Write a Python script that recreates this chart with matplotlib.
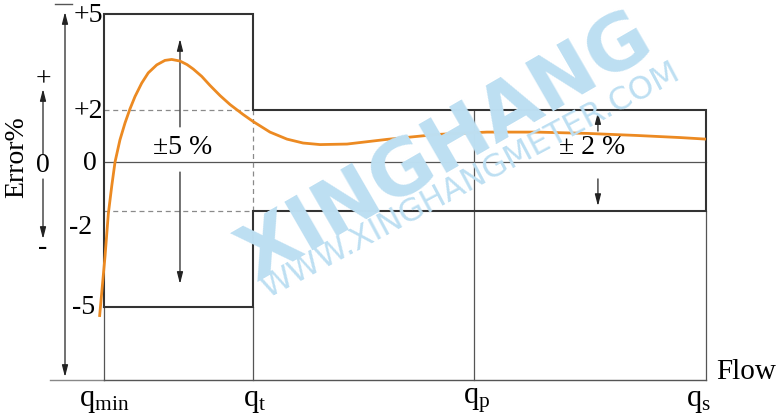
import numpy as np
import matplotlib
matplotlib.use('Agg')
import matplotlib.pyplot as plt

# ---------------- data ----------------
flow_labels = [r'$\mathrm{q_{min}}$', r'$\mathrm{q_{t}}$', r'$\mathrm{q_{p}}$', r'$\mathrm{q_{s}}$']
flow_pos = [0.0, 1.0, 2.48, 4.04]          # qmin, qt, qp, qs on the (schematic) flow axis
error_ticks = [5, 2, 0, -2, -5]
error_tick_labels = ['+5', '+2', '0', '-2', '-5']
wide_limit = 5      # +/-5 % zone between qmin and qt
narrow_limit = 2    # +/-2 % zone between qt and qs

curve_flow = [-0.030, 0.007, 0.029, 0.052, 0.074, 0.107, 0.141, 0.174, 0.208, 0.253,
              0.297, 0.354, 0.409, 0.454, 0.510, 0.557, 0.599, 0.656, 0.711, 0.779,
              0.846, 0.933, 1.000, 1.114, 1.228, 1.336, 1.450, 1.631, 1.899, 2.235,
              2.570, 2.906, 3.242, 3.577, 3.866, 4.040]
curve_error = [-5.31, -3.41, -2.09, -0.98, 0.00, 0.85, 1.50, 2.03, 2.42, 2.84,
               3.16, 3.41, 3.55, 3.58, 3.53, 3.42, 3.28, 3.05, 2.77, 2.45,
               2.17, 1.83, 1.56, 1.15, 0.88, 0.73, 0.67, 0.69, 0.87, 1.06,
               1.15, 1.15, 1.10, 1.02, 0.94, 0.88]

# ---------------- style ----------------
plt.rcParams['font.family'] = ['Liberation Serif', 'DejaVu Serif']
plt.rcParams['mathtext.fontset'] = 'custom'
plt.rcParams['mathtext.rm'] = 'Liberation Serif'
BOX = '#333333'
THIN = '#555555'
DASH = '#8a8a8a'
ORANGE = '#EC8A22'
WM = '#BDDFF2'
FS = 20

# piecewise schematic error scale (the drawing is not linear in %)
_kv = np.array([-5., -2., 0., 2., 5.])
_kp = np.array([-145., -49., 0., 52., 148.])


def _fwd(v):
    v = np.asarray(v, dtype=float)
    p = np.interp(v, _kv, _kp)
    p = np.where(v < _kv[0], _kp[0] + (v - _kv[0]) * 32.0, p)
    p = np.where(v > _kv[-1], _kp[-1] + (v - _kv[-1]) * 32.0, p)
    return p


def _inv(p):
    p = np.asarray(p, dtype=float)
    v = np.interp(p, _kp, _kv)
    v = np.where(p < _kp[0], _kv[0] + (p - _kp[0]) / 32.0, v)
    v = np.where(p > _kp[-1], _kv[-1] + (p - _kp[-1]) / 32.0, v)
    return v


W, H = 776, 414
fig = plt.figure(figsize=(W / 100, H / 100), dpi=100)
ax = fig.add_axes([0, 0, 1, 1])
ax.set_yscale('function', functions=(_fwd, _inv))
ax.set_xlim(-104 / 149, (W - 104) / 149)
ax.set_ylim(float(_inv(-251)), float(_inv(163)))
ax.axis('off')

qmin, qt, qp, qs = flow_pos
floor = float(_inv(-218))

# watermark
fig.text(446 / W, 1 - 148 / H, 'XINGHANG', rotation=30, ha='center', va='center',
         fontsize=55, fontweight='bold', family='DejaVu Sans', color=WM, zorder=0)
fig.text(471 / W, 1 - 180 / H, 'WWW.XINGHANGMETER.COM', rotation=28, ha='center', va='center',
         fontsize=23, family='DejaVu Sans', color=WM, zorder=0)

# bottom flow axis line and top tick
ax.plot([-0.362, qmin], [floor, floor], color='#888888', lw=1.0, clip_on=False)
ax.plot([qmin, qs], [floor, floor], color=THIN, lw=1.0, clip_on=False)
ax.plot([-0.329, -0.215], [float(_inv(158)), float(_inv(158))], color=THIN, lw=1.0)

# tolerance boxes
box_x = [qmin, qmin, qt, qt, qs, qs, qt, qt, qmin]
box_y = [-wide_limit, wide_limit, wide_limit, narrow_limit, narrow_limit,
         -narrow_limit, -narrow_limit, -wide_limit, -wide_limit]
ax.plot(box_x, box_y, color=BOX, lw=1.5, solid_joinstyle='miter', zorder=3)

# thin reference lines
ax.plot([qmin, qs], [0, 0], color=THIN, lw=0.9, zorder=2)
ax.plot([qmin, qmin], [-wide_limit, floor], color=THIN, lw=0.9)
ax.plot([qt, qt], [-wide_limit, floor], color=THIN, lw=0.9)
ax.plot([qp, qp], [narrow_limit, floor], color=THIN, lw=0.9)
ax.plot([qs, qs], [-narrow_limit, floor], color=THIN, lw=0.9)

# dashed lines
for yv in (narrow_limit, -narrow_limit):
    ax.plot([qmin, qt], [yv, yv], color=DASH, lw=0.9, ls=(0, (4, 3)))
ax.plot([qt, qt], [-narrow_limit, narrow_limit], color=DASH, lw=0.9, ls=(0, (4, 3)))

# error curve
ax.plot(curve_flow, curve_error, color=ORANGE, lw=2.0, solid_capstyle='butt',
        solid_joinstyle='round', zorder=5, clip_on=False)

# arrows
ahead = '-|>,head_length=0.7,head_width=0.18'


def arrow(x0, y0, x1, y1, style=ahead, coords='data'):
    ax.annotate('', xy=(x1, y1), xytext=(x0, y0), xycoords=coords, textcoords=coords,
                arrowprops=dict(arrowstyle=style, color='#222222', lw=0.9,
                                mutation_scale=10, shrinkA=0, shrinkB=0))


xa = 0.51
arrow(xa, 1.35, xa, 4.22)
arrow(xa, -0.41, xa, -4.28)
xb = 3.315
arrow(xb, 1.19, xb, 1.92)
arrow(xb, -0.69, xb, -1.80)

# big left double arrow
arrow(65, H - 378, 65, H - 13, style='<|-|>,head_length=0.7,head_width=0.18',
      coords='figure pixels')
# sign column
arrow(43, H - 155, 43, H - 90, coords='figure pixels')
arrow(43, H - 180, 43, H - 240, coords='figure pixels')
fig.text(43 / W, 1 - 80 / H, '+', ha='center', va='center', fontsize=FS)
fig.text(43 / W, 1 - 166 / H, '0', ha='center', va='center', fontsize=FS)
fig.text(43 / W, 1 - 248 / H, '-', ha='center', va='center', fontsize=FS)
fig.text(17 / W, 1 - 157 / H, 'Error%', rotation=90, ha='center', va='center', fontsize=FS)

# error tick labels
offsets = {'+5': (-1, 0), '+2': (-1, 0), '0': (-7, 0), '-2': (-12, -16), '-5': (-9, 0)}
for v, lab in zip(error_ticks, error_tick_labels):
    ax.annotate(lab, xy=(qmin, v), xytext=offsets[lab], textcoords='offset pixels',
                ha='right', va='center', fontsize=FS)

# flow labels
xoffs = [0, 2, 3, -7]
for xv, lab, dx in zip(flow_pos, flow_labels, xoffs):
    ax.annotate(lab, xy=(xv, floor), xytext=(dx, -20), textcoords='offset pixels',
                ha='center', va='center', fontsize=FS + 2)
ax.annotate('Flow', xy=(qs, floor), xytext=(10, 9), textcoords='offset pixels',
            ha='left', va='center', fontsize=FS + 1)

# zone labels
ax.annotate('\u00b15 %', xy=(0.53, 0.58), ha='center', va='center', fontsize=FS)
ax.annotate('\u00b1 2 %', xy=(3.275, 0.58), ha='center', va='center', fontsize=FS)

fig.savefig('out.png', dpi=100)
